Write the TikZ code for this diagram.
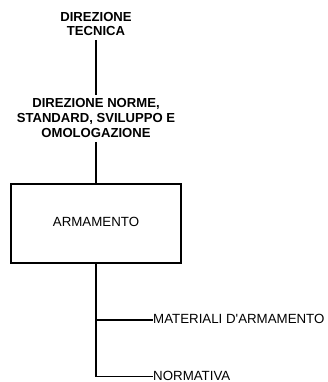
\documentclass[tikz,border=0pt]{standalone}
\usepackage{fontspec}
\setmainfont{Liberation Sans}
\begin{document}
\begin{tikzpicture}[x=1pt,y=-1pt,
  lbl/.style={font=\bfseries\fontsize{13.1}{14.8}\selectfont, align=center, inner sep=0pt},
  plain/.style={font=\fontsize{13.3}{15}\selectfont, inner sep=0pt},
  conn/.style={line width=1.6pt},
  unit/.style={draw, line width=1.6pt, minimum width=170pt, minimum height=79pt, inner sep=0pt}]
\useasboundingbox (0,0) rectangle (327,382);
\node[lbl] (dt) at (96,24) {DIREZIONE\\TECNICA};
\node[lbl] (dn) at (96,118) {DIREZIONE NORME,\\STANDARD, SVILUPPO E\\OMOLOGAZIONE};
\node[unit] (arm) at (96,223.5) {};
\node[plain] (armt) at (96,222) {ARMAMENTO};
\coordinate (j1) at (96,320);
\coordinate (j2) at (96,376.5);
\node[plain, anchor=west] (mat) at (153,319) {MATERIALI D\textquotesingle ARMAMENTO};
\node[plain, anchor=west] (nor) at (153,375.5) {NORMATIVA};
\draw[conn] (96,40) -- (96,95);
\draw[conn] (96,142) -- (arm.north);
\draw[conn] (arm.south) -- (j2) -- (nor.west |- j2);
\draw[conn] (j1) -- (mat.west |- j1);
\end{tikzpicture}
\end{document}
